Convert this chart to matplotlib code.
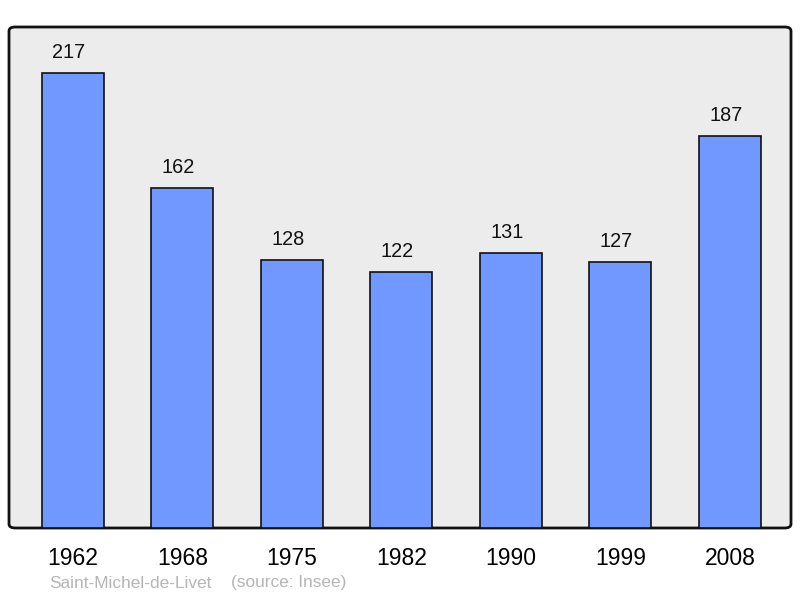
import matplotlib.pyplot as plt
from matplotlib.patches import FancyBboxPatch

years = ['1962', '1968', '1975', '1982', '1990', '1999', '2008']
population = [217, 162, 128, 122, 131, 127, 187]
commune = 'Saint-Michel-de-Livet'
source = '(source: Insee)'

plt.rcParams['font.family'] = ['Liberation Sans', 'DejaVu Sans']

fig = plt.figure(figsize=(8, 5.98), dpi=100)
ax = fig.add_axes([9 / 800, 70 / 598, 782 / 800, 501 / 598])
ax.set_facecolor('none')
ax.set_xlim(-0.584, 6.558)
ax.set_ylim(0, 239)

# rounded background frame
bg = FancyBboxPatch((0, 0), 1, 1, boxstyle='round,pad=0,rounding_size=0.008',
                    transform=ax.transAxes, facecolor='#ececec', edgecolor='#111111',
                    linewidth=2, zorder=0, clip_on=False)
ax.add_patch(bg)

x = range(len(years))
ax.bar(x, population, width=0.566, color='#7098ff', edgecolor='#111111',
       linewidth=1.2, zorder=2)
for xi, v in zip(x, population):
    ax.annotate(str(v), (xi, v), xytext=(-3, 8), textcoords='offset points',
                ha='center', va='bottom', fontsize=14.3, color='#111111')

ax.set_xticks(list(x))
ax.set_xticklabels(years, fontsize=16.5)
ax.tick_params(axis='x', length=0, pad=14)
ax.set_yticks([])
for s in ax.spines.values():
    s.set_visible(False)

fig.text(49 / 800, 1 - 583 / 598, commune, fontsize=12.4, color='#b5b5b5', va='center')
fig.text(231 / 800, 1 - 583 / 598, source, fontsize=12.4, color='#b5b5b5', va='center')

fig.savefig('out.png', dpi=100)
